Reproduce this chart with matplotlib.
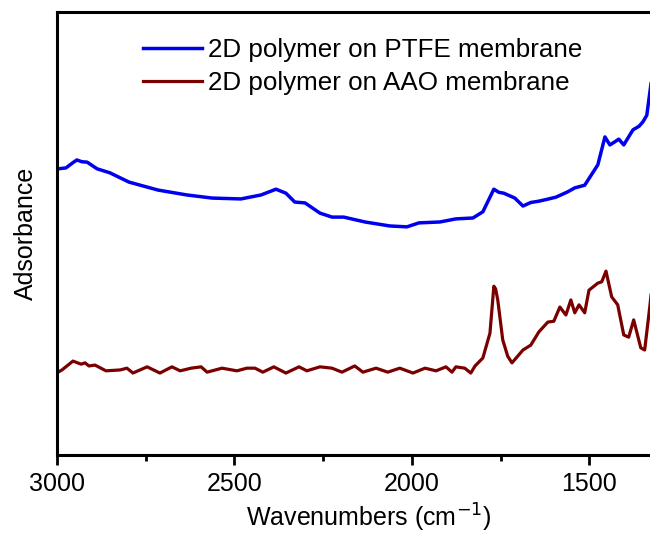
import matplotlib.pyplot as plt
from matplotlib.ticker import MultipleLocator

plt.rcParams['font.family'] = ['Liberation Sans', 'DejaVu Sans']

# espectro FTIR, eje en cm-1, absorbancia en unidades arbitrarias
wn_ptfe = [2997, 2975, 2955, 2944, 2930, 2915, 2887, 2851, 2797, 2715, 2634, 2563,
           2482, 2425, 2383, 2355, 2330, 2301, 2259, 2225, 2192, 2132, 2062, 2014,
           1980, 1921, 1876, 1828, 1800, 1769, 1755, 1741, 1710, 1687, 1665, 1642,
           1620, 1594, 1561, 1541, 1513, 1476, 1456, 1442, 1430, 1417, 1403, 1377,
           1360, 1349, 1338, 1325]
abs_ptfe = [0.646, 0.648, 0.660, 0.666, 0.662, 0.661, 0.646, 0.637, 0.616, 0.598, 0.587, 0.580,
            0.578, 0.587, 0.600, 0.591, 0.571, 0.569, 0.546, 0.537, 0.537, 0.526, 0.517, 0.515,
            0.524, 0.526, 0.533, 0.535, 0.549, 0.600, 0.593, 0.591, 0.580, 0.562, 0.570, 0.573,
            0.577, 0.582, 0.594, 0.603, 0.609, 0.655, 0.718, 0.700, 0.706, 0.713, 0.700, 0.734,
            0.742, 0.752, 0.767, 0.845]

wn_aao = [2997, 2986, 2955, 2932, 2921, 2910, 2893, 2862, 2822, 2803, 2786, 2746,
          2710, 2676, 2653, 2622, 2594, 2577, 2535, 2493, 2465, 2442, 2420, 2389,
          2355, 2318, 2296, 2259, 2225, 2197, 2161, 2138, 2101, 2068, 2034, 1997,
          1963, 1932, 1904, 1887, 1876, 1851, 1834, 1822, 1800, 1780, 1769, 1764,
          1758, 1744, 1730, 1718, 1704, 1687, 1665, 1642, 1617, 1600, 1583, 1566,
          1552, 1541, 1529, 1513, 1501, 1476, 1465, 1453, 1437, 1420, 1403, 1389,
          1375, 1355, 1344, 1329, 1325]
abs_aao = [0.187, 0.192, 0.212, 0.205, 0.208, 0.201, 0.203, 0.190, 0.192, 0.196, 0.185, 0.199,
           0.185, 0.199, 0.190, 0.196, 0.199, 0.187, 0.196, 0.190, 0.196, 0.196, 0.187, 0.199,
           0.185, 0.199, 0.190, 0.199, 0.196, 0.187, 0.201, 0.187, 0.196, 0.187, 0.196, 0.185,
           0.196, 0.190, 0.199, 0.187, 0.199, 0.196, 0.185, 0.201, 0.219, 0.275, 0.381, 0.375,
           0.350, 0.260, 0.223, 0.208, 0.221, 0.237, 0.248, 0.278, 0.300, 0.302, 0.334, 0.316,
           0.350, 0.321, 0.339, 0.321, 0.372, 0.388, 0.391, 0.415, 0.357, 0.339, 0.271, 0.266,
           0.305, 0.242, 0.237, 0.339, 0.370]

etiquetas = ['2D polymer on PTFE membrane', '2D polymer on AAO membrane']

fig = plt.figure(figsize=(6.5, 5.33), dpi=100)
ax = fig.add_axes([57 / 650, 78 / 533, 593 / 650, 443 / 533])

ax.plot(wn_ptfe, abs_ptfe, color='#0000ee', linewidth=2.5, label=etiquetas[0])
ax.plot(wn_aao, abs_aao, color='#7a0000', linewidth=2.3, label=etiquetas[1])

ax.set_xlim(3000, 1329)
ax.set_ylim(0, 1)
ax.xaxis.set_major_locator(MultipleLocator(500))
ax.xaxis.set_minor_locator(MultipleLocator(250))
ax.set_yticks([])
ax.tick_params(axis='x', which='major', direction='out', length=7, width=2, labelsize=18, pad=5)
ax.tick_params(axis='x', which='minor', direction='out', length=4, width=2)
for lado in ['left', 'top', 'bottom']:
    ax.spines[lado].set_linewidth(2.2)
ax.spines['right'].set_visible(False)

ax.set_xlabel('Wavenumbers (cm$^{-1}$)', fontsize=18, labelpad=4)
ax.xaxis.set_label_coords(0.526, -0.105)
ax.set_ylabel('Adsorbance', fontsize=18, labelpad=14)

ax.legend(loc='upper left', bbox_to_anchor=(0.115, 0.982), frameon=False, fontsize=18.7,
          handlelength=2.25, handletextpad=0.25, labelspacing=0.33, borderpad=0.2)

plt.savefig('out.png', dpi=100)
